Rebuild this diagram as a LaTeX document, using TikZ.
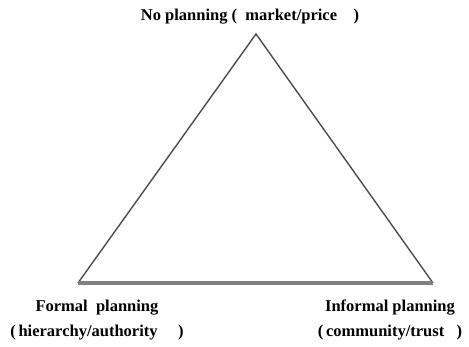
\documentclass[tikz,border=0pt]{standalone}
\usepackage{fontspec}
\setmainfont{Liberation Serif}
\begin{document}
\begin{tikzpicture}[x=1pt,y=1pt]
					\useasboundingbox (0,0) rectangle (469,346);
					\tikzset{lbl/.style={font=\fontsize{16.5}{25}\selectfont\bfseries, align=center, inner sep=0pt}}
					\coordinate (X0) at (256,312);
					\coordinate (X1) at (78,63);
					\coordinate (X2) at (433,63);
					\node[lbl] (T0) at (250,329) {No planning (\ \ market/price\ \ \ \ )};
					\node[lbl] (T1) at (97,26) {Formal\ \ planning\\(\,hierarchy/authority\ \ \ \ \ )};
					\node[lbl] (T2) at (390,26) {Informal planning\\(\,community/trust\ \ \ )};
					\draw[line width=1.4pt, black!70] (X1) -- (X0) -- (X2);
					\draw[line width=4pt, black!50] (X1) -- (X2);
				\end{tikzpicture}
\end{document}
